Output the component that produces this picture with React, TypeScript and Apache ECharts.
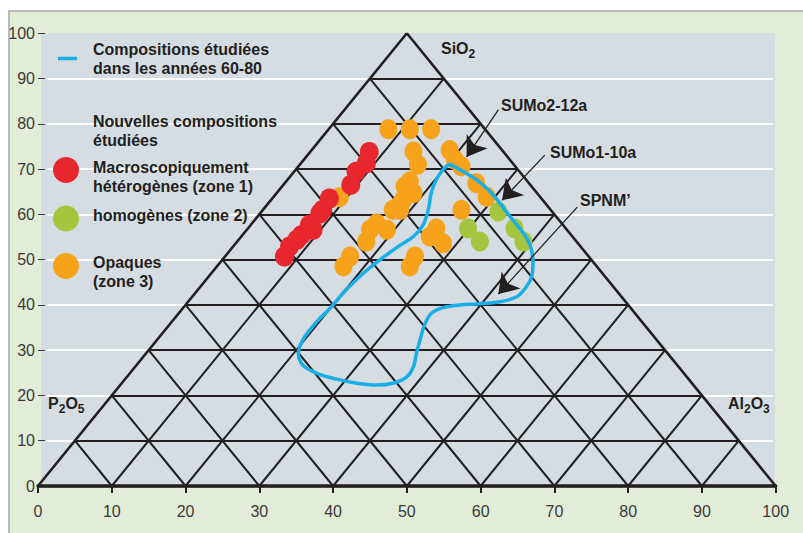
import React, { useEffect, useRef } from "react";
import * as echarts from "echarts";

// ---- data ----
const axisTicks = [0, 10, 20, 30, 40, 50, 60, 70, 80, 90, 100];
const gridLevels = [10, 20, 30, 40, 50, 60, 70, 80, 90];

// Macroscopiquement hétérogènes (zone 1)
const redPoints: number[][] = [
  [44.9, 73.8], [44.5, 71.3], [43.1, 69.4], [42.4, 66.5], [39.5, 63.5],
  [38.6, 61.0], [38.2, 60.2], [36.8, 57.7], [37.3, 56.6], [35.7, 55.4],
  [35.1, 54.4], [34.1, 52.9], [33.4, 50.7],
];
// homogènes (zone 2)
const greenPoints: number[][] = [
  [62.4, 60.6], [58.3, 56.9], [59.9, 54.0], [64.6, 56.9], [65.8, 54.0],
];
// Opaques (zone 3)
const orangePoints: number[][] = [
  [40.9, 63.8], [47.5, 78.8], [50.4, 78.8], [53.3, 78.8], [50.9, 73.9],
  [51.5, 71.0], [50.4, 67.3], [49.7, 66.2], [50.9, 64.7], [49.5, 63.2],
  [48.8, 61.7], [48.1, 61.0], [49.1, 61.0], [45.9, 58.0], [45.0, 56.6],
  [47.3, 56.6], [44.5, 54.0], [42.3, 50.7], [41.4, 48.5], [50.4, 48.5],
  [51.1, 50.7], [54.0, 56.9], [53.1, 55.1], [54.9, 53.6], [55.8, 74.2],
  [56.5, 72.1], [57.4, 70.6], [59.4, 66.9], [60.8, 63.9], [57.4, 61.0],
];
// Compositions étudiées dans les années 60-80 (contour)
const contour6080: number[][] = [
  [55.8, 71.1], [57.6, 69.5], [59.4, 67.7], [61.0, 65.5], [62.6, 62.5],
  [64.0, 59.5], [65.3, 56.9], [66.4, 54.3], [66.9, 52.1], [67.1, 49.2],
  [66.9, 46.2], [66.2, 44.0], [64.9, 41.8], [62.6, 40.7], [59.4, 40.2],
  [57.2, 40.0], [54.9, 39.4], [53.3, 38.1], [52.4, 35.6], [51.8, 32.3],
  [51.3, 29.3], [50.9, 26.4], [50.0, 24.1], [48.1, 22.7], [45.9, 22.3],
  [43.2, 22.7], [40.5, 23.6], [37.8, 24.9], [35.9, 26.7], [35.3, 29.3],
  [35.9, 32.3], [37.8, 36.3], [39.6, 39.3], [41.8, 43.4], [44.1, 47.0],
  [46.3, 49.9], [49.1, 53.2], [50.9, 55.1], [52.2, 57.7], [52.9, 61.0],
  [53.3, 64.7], [54.0, 67.7], [54.9, 69.9], [55.8, 71.1],
];
// annotation arrows (from label to target), in data units
const arrowNames = ["SUMo2-12a", "SUMo1-10a", "SPNM’"];
const arrowFrom: number[][] = [[62.4, 83.1], [68.7, 73.1], [73.1, 61.6]];
const arrowTo: number[][] = [[58.1, 72.7], [62.9, 63.1], [62.4, 42.4]];

const FONT = '"Liberation Sans", Arial, Helvetica, sans-serif';
const INK = "#231f20";

export default function App() {
  const ref = useRef<HTMLDivElement>(null);

  useEffect(() => {
    if (!ref.current) return;
    const chart = echarts.init(ref.current, null, { renderer: "svg" });

    const outer = [
      { coords: [[0, 0], [100, 0]] },
      { coords: [[0, 0], [50, 100]] },
      { coords: [[100, 0], [50, 100]] },
    ];
    const inner: any[] = [];
    gridLevels.forEach((h) => {
      inner.push({ coords: [[h / 2, h], [100 - h / 2, h]] });
      inner.push({ coords: [[h, 0], [50 + h / 2, 100 - h]] });
      inner.push({ coords: [[h, 0], [h / 2, h]] });
    });
    const whiteLines = gridLevels.map((h) => ({ coords: [[1.2, h], [99.6, h]] }));
    const arrows = arrowNames.map((n, i) => ({ name: n, coords: [arrowFrom[i], arrowTo[i]] }));

    const bold = (text: string, x: number, y: number, size = 16) => ({
      type: "text",
      x,
      y,
      z: 20,
      style: { text, fill: INK, font: `bold ${size}px ${FONT}`, verticalAlign: "middle", align: "left" },
    });

    const option: any = {
      animation: false,
      backgroundColor: "#ffffff",
      grid: { left: 38, right: 27.3, top: 33.3, bottom: 47, containLabel: false },
      xAxis: {
        type: "value",
        min: 0,
        max: 100,
        interval: 10,
        axisLine: { show: true, lineStyle: { color: INK, width: 3.5 } },
        axisTick: { show: true, length: 7, lineStyle: { color: INK, width: 2 } },
        axisLabel: { color: "#3a3a3a", fontSize: 16, fontFamily: FONT, margin: 17 },
        splitLine: { show: false },
      },
      yAxis: {
        type: "value",
        min: 0,
        max: 100,
        interval: 10,
        axisLine: { show: false },
        axisTick: { show: true, inside: true, length: 7, lineStyle: { color: "#3a3a3a", width: 1 } },
        axisLabel: { color: "#3a3a3a", fontSize: 16, fontFamily: FONT, margin: 3 },
        splitLine: { show: false },
      },
      graphic: [
        {
          type: "rect",
          z: -10,
          shape: { x: 9, y: 11, width: 800, height: 530 },
          style: { fill: "#e3ecd6", stroke: "#a2a6a6", lineWidth: 1.5 },
        },
        {
          type: "rect",
          z: -9,
          shape: { x: 41, y: 33, width: 734, height: 453 },
          style: { fill: "#d5dde2" },
        },
        // legend
        { type: "line", z: 20, shape: { x1: 58, y1: 58.5, x2: 77, y2: 58.5 }, style: { stroke: "#19aee6", lineWidth: 3.5 } },
        bold("Compositions étudiées", 93, 49),
        bold("dans les années 60-80", 93, 68.5),
        bold("Nouvelles compositions", 93, 121),
        bold("étudiées", 93, 140),
        { type: "circle", z: 20, shape: { cx: 66, cy: 170, r: 13 }, style: { fill: "#e8262d" } },
        bold("Macroscopiquement", 93, 167),
        bold("hétérogènes (zone 1)", 93, 186.5),
        { type: "circle", z: 20, shape: { cx: 66, cy: 218.5, r: 13 }, style: { fill: "#a5c53f" } },
        bold("homogènes (zone 2)", 93, 215),
        { type: "circle", z: 20, shape: { cx: 66, cy: 266, r: 13 }, style: { fill: "#f7a21b" } },
        bold("Opaques", 93, 262),
        bold("(zone 3)", 93, 281),
        // vertex labels
        bold("SiO", 441, 48.5),
        bold("2", 468.6, 54, 12),
        bold("P", 48, 403.5),
        bold("2", 58.7, 409, 12),
        bold("O", 65.4, 403.5),
        bold("5", 77.8, 409, 12),
        bold("Al", 728, 403.5),
        bold("2", 744, 409, 12),
        bold("O", 750.7, 403.5),
        bold("3", 763.1, 409, 12),
        // arrow labels
        bold(arrowNames[0], 501, 105.5),
        bold(arrowNames[1], 550, 152.5),
        bold(arrowNames[2], 580, 200),
      ],
      series: [
        {
          type: "lines",
          coordinateSystem: "cartesian2d",
          silent: true,
          z: 1,
          data: whiteLines,
          lineStyle: { color: "#ffffff", width: 2.2, opacity: 1 },
        },
        {
          type: "lines",
          coordinateSystem: "cartesian2d",
          silent: true,
          z: 2,
          data: inner,
          lineStyle: { color: INK, width: 2, opacity: 1 },
        },
        {
          type: "lines",
          coordinateSystem: "cartesian2d",
          silent: true,
          z: 2,
          data: outer,
          lineStyle: { color: INK, width: 2.6, opacity: 1 },
        },
        {
          type: "scatter",
          name: "Opaques (zone 3)",
          z: 3,
          data: orangePoints,
          symbol: "circle",
          symbolSize: [18, 20],
          itemStyle: { color: "#f7a21b", opacity: 1 },
        },
        {
          type: "scatter",
          name: "homogènes (zone 2)",
          z: 4,
          data: greenPoints,
          symbol: "circle",
          symbolSize: [18, 20],
          itemStyle: { color: "#a5c53f", opacity: 1 },
        },
        {
          type: "scatter",
          name: "Macroscopiquement hétérogènes (zone 1)",
          z: 5,
          data: redPoints,
          symbol: "circle",
          symbolSize: [19, 20],
          itemStyle: { color: "#e8262d", opacity: 1 },
        },
        {
          type: "line",
          name: "Compositions étudiées dans les années 60-80",
          z: 6,
          data: contour6080,
          smooth: 0.35,
          symbol: "none",
          lineStyle: { color: "#19aee6", width: 3.5 },
        },
        {
          type: "lines",
          coordinateSystem: "cartesian2d",
          silent: true,
          z: 7,
          data: arrows,
          symbol: ["none", "arrow"],
          symbolSize: 19,
          lineStyle: { color: INK, width: 1.3, opacity: 1 },
          itemStyle: { color: INK },
        },
      ],
    };

    chart.setOption(option);
    return () => chart.dispose();
  }, []);

  return (
    <div
      ref={ref}
      style={{ position: "fixed", left: 0, top: 0, width: 803, height: 533 }}
    />
  );
}
